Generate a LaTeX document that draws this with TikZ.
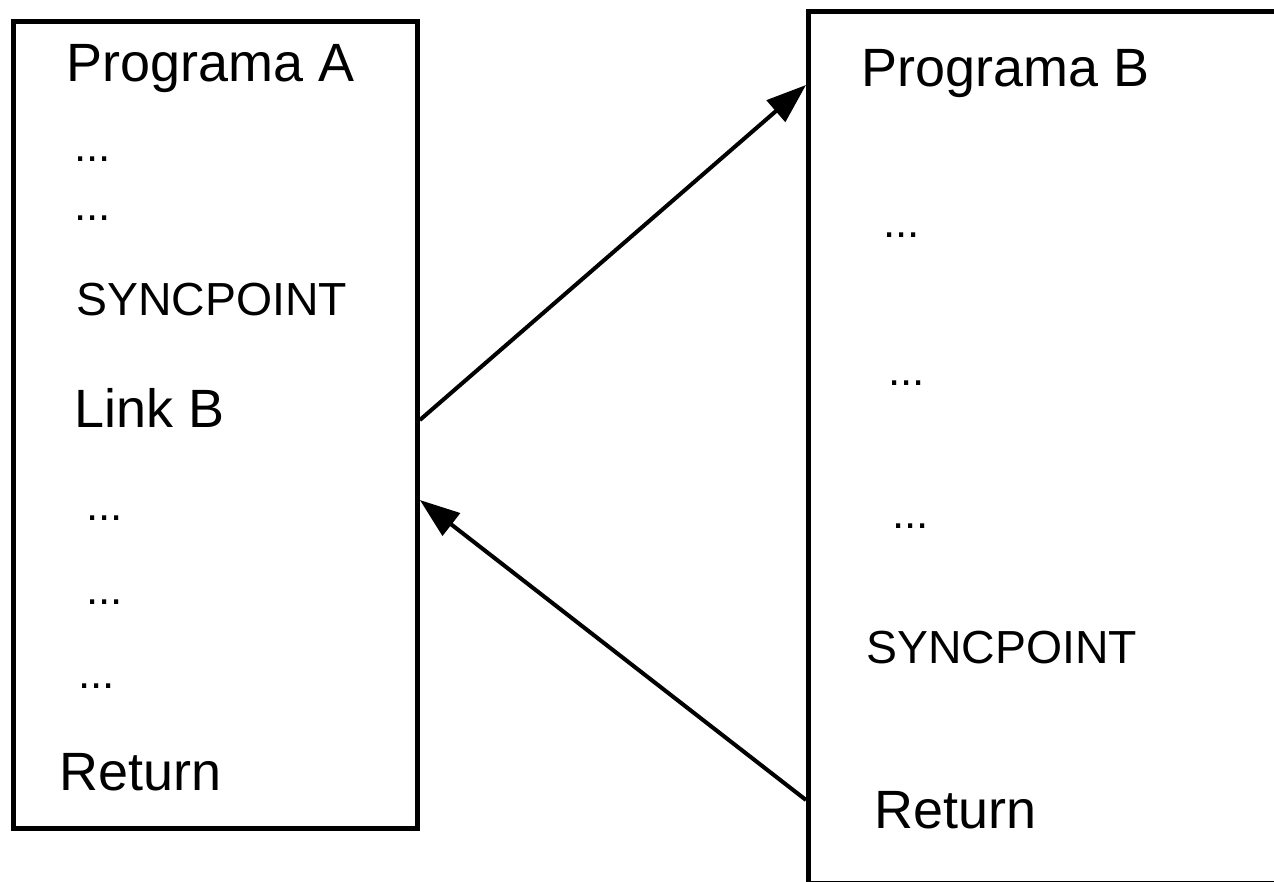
\documentclass[tikz,border=0pt]{standalone}
\usepackage{fontspec}
\setmainfont{Liberation Sans}
\usetikzlibrary{arrows.meta}

\begin{document}
\begin{tikzpicture}[x=0.02cm,y=-0.02cm,
  prog/.style={draw,line width=2.8pt,anchor=north west,inner sep=0pt},
  big/.style={anchor=base west,inner sep=0pt,font=\fontsize{30.7pt}{36pt}\selectfont},
  small/.style={anchor=base west,inner sep=0pt,font=\fontsize{26.4pt}{30pt}\selectfont},
  dots/.style={anchor=base west,inner sep=0pt,font=\fontsize{25pt}{30pt}\selectfont},
  call/.style={draw=black,line width=2.3pt,-{Triangle[length=0.8cm,width=0.56cm]}}]
  \useasboundingbox (0,0) rectangle (1274,882);
  \clip (0,0) rectangle (1274,882);
  % the two programs
  \node[prog,minimum width=8.08cm,minimum height=16.14cm] (progA) at (11,19) {};
  \node[prog,minimum width=10cm,minimum height=17.44cm] (progB) at (806,9) {};
  % program A
  \node[big] (titleA) at (66,82) {Programa A};
  \node[dots] (a1) at (74,161) {...};
  \node[dots] (a2) at (74,220) {...};
  \node[small] (syncA) at (76,315) {SYNCPOINT};
  \node[big] (link) at (74,427) {Link B};
  \node[dots] (a3) at (86,520) {...};
  \node[dots] (a4) at (86,604) {...};
  \node[dots] (a5) at (78,688) {...};
  \node[big] (retA) at (59,790) {Return};
  % program B
  \node[big] (titleB) at (861,87) {Programa B};
  \node[dots] (b1) at (883,237) {...};
  \node[dots] (b2) at (888,385) {...};
  \node[dots] (b3) at (892,528) {...};
  \node[small] (syncB) at (866,663) {SYNCPOINT};
  \node[big] (retB) at (874,828) {Return};
  % calls
  \draw[call] (progA.east |- 0,420) -- (progB.west |- 0,85);
  \draw[call] (progB.west |- 0,800) -- (progA.east |- 0,500);
\end{tikzpicture}
\end{document}
